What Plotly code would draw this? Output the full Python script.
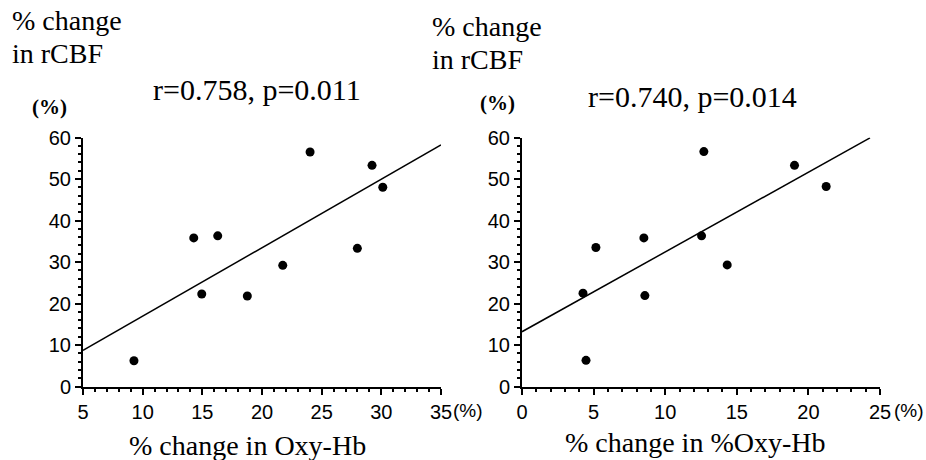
import plotly.graph_objects as go

# Data
rcbf = [6.2, 35.8, 36.3, 22.3, 21.8, 29.2, 33.3, 56.5, 53.3, 48.0]
oxy_hb = [9.27, 14.28, 16.29, 14.95, 18.77, 21.74, 27.99, 24.03, 29.22, 30.12]
rcbf_r = [6.3, 22.5, 33.5, 35.8, 21.9, 36.3, 29.3, 56.6, 53.3, 48.2]
pct_oxy_hb = [4.47, 4.26, 5.16, 8.51, 8.58, 12.54, 14.33, 12.70, 19.03, 21.24]

fit1_x = [5, 35]
fit1_y = [8.7, 58.2]
fit2_x = [0, 24.3]
fit2_y = [13.2, 59.9]

xticks1 = [5, 10, 15, 20, 25, 30, 35]
xticks2 = [0, 5, 10, 15, 20, 25]
yticks = [0, 10, 20, 30, 40, 50, 60]

W, H = 926, 460
SANS = "Liberation Sans"
SERIF = "Liberation Serif"

def px(x):
    return x / W

def py(y):
    return 1 - y / H

fig = go.Figure()
fig.add_trace(go.Scatter(x=oxy_hb, y=rcbf, mode="markers",
                         marker=dict(color="black", size=9), xaxis="x", yaxis="y"))
fig.add_trace(go.Scatter(x=fit1_x, y=fit1_y, mode="lines",
                         line=dict(color="black", width=1.5), xaxis="x", yaxis="y"))
fig.add_trace(go.Scatter(x=pct_oxy_hb, y=rcbf_r, mode="markers",
                         marker=dict(color="black", size=9), xaxis="x2", yaxis="y2"))
fig.add_trace(go.Scatter(x=fit2_x, y=fit2_y, mode="lines",
                         line=dict(color="black", width=1.5), xaxis="x2", yaxis="y2"))

ydom = [py(386.5), py(137.5)]
axis_common = dict(showline=True, linecolor="black", linewidth=2, showgrid=False,
                   zeroline=False, ticks="outside", ticklen=6, tickwidth=1.5,
                   tickcolor="black", automargin=False,
                   tickfont=dict(family=SANS, size=20, color="black"))

fig.update_layout(
    width=W, height=H,
    margin=dict(l=0, r=0, t=0, b=0),
    paper_bgcolor="white", plot_bgcolor="white",
    showlegend=False,
    xaxis=dict(domain=[px(83), px(441)], range=[5, 35], tickvals=xticks1,
               minor=dict(dtick=1, ticks="outside", ticklen=3, tickcolor="black", tick0=5),
               anchor="y", **axis_common),
    yaxis=dict(domain=ydom, range=[0, 60], tickvals=yticks,
               minor=dict(dtick=2, ticks="outside", ticklen=3, tickcolor="black"),
               anchor="x", **axis_common),
    xaxis2=dict(domain=[px(522), px(880)], range=[0, 25], tickvals=xticks2,
                minor=dict(dtick=1, ticks="outside", ticklen=3, tickcolor="black"),
                anchor="y2", **axis_common),
    yaxis2=dict(domain=ydom, range=[0, 60], tickvals=yticks,
                minor=dict(dtick=2, ticks="outside", ticklen=3, tickcolor="black"),
                anchor="x2", **axis_common),
)

def note(text, x, y, size, family=SERIF, xanchor="left"):
    fig.add_annotation(text=text, x=px(x), y=py(y), xref="paper", yref="paper",
                       xanchor=xanchor, yanchor="middle", showarrow=False,
                       font=dict(family=family, size=size, color="black"))

# Left panel texts
note("% change", 10, 21, 28)
note("in rCBF", 10, 53, 28)
note("<b>(%)</b>", 30, 107, 21)
note("r=0.758, p=0.011", 151, 90, 30)
note("(%)", 451, 410, 19, SANS)
note("% change in Oxy-Hb", 247, 445, 28, xanchor="center")

# Right panel texts
note("% change", 430, 27, 28)
note("in rCBF", 430, 59, 28)
note("<b>(%)</b>", 478, 103, 21)
note("r=0.740, p=0.014", 586, 96, 30)
note("(%)", 892, 410, 19, SANS)
note("% change in %Oxy-Hb", 695, 442, 28, xanchor="center")

# Remove the default 8px page margin so the figure fills the window exactly
fig.write_html("out.html",
               config={"displayModeBar": False},
               post_script="document.body.style.margin='0';document.body.style.overflow='hidden';")
